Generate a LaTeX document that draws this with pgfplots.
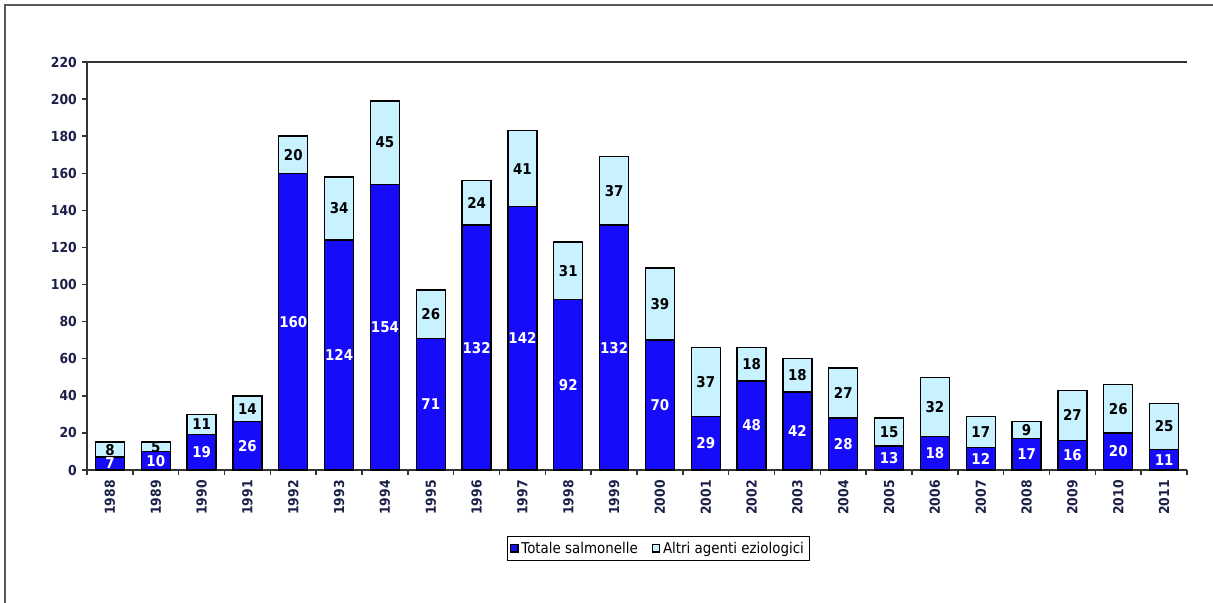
\documentclass[border=0pt]{standalone}
\usepackage{fontspec}
\setmainfont{DejaVu Sans}
\newfontfamily\condfont[FakeStretch=0.9]{DejaVu Sans}
\usepackage{pgfplots}
\usepackage{pgfplotstable}
\pgfplotsset{compat=1.18}

\definecolor{salm}{RGB}{22,12,250}
\definecolor{altri}{RGB}{200,242,255}
\definecolor{tickc}{RGB}{28,32,72}
\newcommand\lblfont{\condfont\bfseries\fontsize{9.8}{11}\selectfont}
\newcommand\barfont{\condfont\bfseries\fontsize{10.6}{12}\selectfont}
\newcommand\legfont{\condfont\fontsize{10.6}{12}\selectfont}

% year, Totale salmonelle, Altri agenti eziologici
\pgfplotstableread{
x year salm altri
0 1988 7 8
1 1989 10 5
2 1990 19 11
3 1991 26 14
4 1992 160 20
5 1993 124 34
6 1994 154 45
7 1995 71 26
8 1996 132 24
9 1997 142 41
10 1998 92 31
11 1999 132 37
12 2000 70 39
13 2001 29 37
14 2002 48 18
15 2003 42 18
16 2004 28 27
17 2005 13 15
18 2006 18 32
19 2007 12 17
20 2008 17 9
21 2009 16 27
22 2010 20 26
23 2011 11 25
}\data

\begin{document}
\begin{tikzpicture}
\path[use as bounding box] (0,0) rectangle (303.25mm,-150.75mm);
\draw[line width=0.5mm, black!65] (1.25mm,-150.75mm) -- (1.25mm,-1.25mm) -- (303.25mm,-1.25mm);
\begin{axis}[
  at={(21.75mm,-117.5mm)}, anchor=south west,
  scale only axis, width=275mm, height=102mm,
  xmin=-0.5, xmax=23.5, ymin=0, ymax=220,
  enlargelimits=false,
  /pgf/number format/assume math mode=true,
  ytick={0,20,...,220},
  xtick={0,...,23},
  xticklabels from table={\data}{year},
  minor xtick={-0.5,0.5,...,23.5},
  major x tick style={draw=none},
  axis x line*=bottom, axis y line*=left,
  axis line style={line width=0.45mm, black!80},
  tick style={black!80, line width=0.35mm},
  tick align=outside,
  major tick length=1.3mm, minor tick length=1.3mm,
  ticklabel style={font=\lblfont, text=tickc},
  x tick label style={rotate=90, anchor=east},
  ybar stacked, bar width=7.25mm,
  point meta=rawy,
  nodes near coords,
  every node near coord/.append style={anchor=center, font=\barfont},
  legend style={at={(0.5195,-0.1924)}, anchor=center, draw=black, line width=0.3mm,
    font=\legfont, legend columns=-1, inner sep=0.6mm,
    /tikz/every even column/.append style={column sep=2.8mm}},
  legend image code/.code={\draw[#1, line width=0.3mm] (0mm,-0.9mm) rectangle (1.8mm,0.9mm);},
]
\addplot[fill=salm, draw=black, line width=0.35mm,
  every node near coord/.append style={text=white}] table[x=x, y=salm] {\data};
\addplot[fill=altri, draw=black, line width=0.35mm,
  every node near coord/.append style={text=black}] table[x=x, y=altri] {\data};
\legend{Totale salmonelle, Altri agenti eziologici}
\draw[line width=0.45mm, black!80] (rel axis cs:0,1) -- (rel axis cs:1,1);
\end{axis}
\end{tikzpicture}
\end{document}
